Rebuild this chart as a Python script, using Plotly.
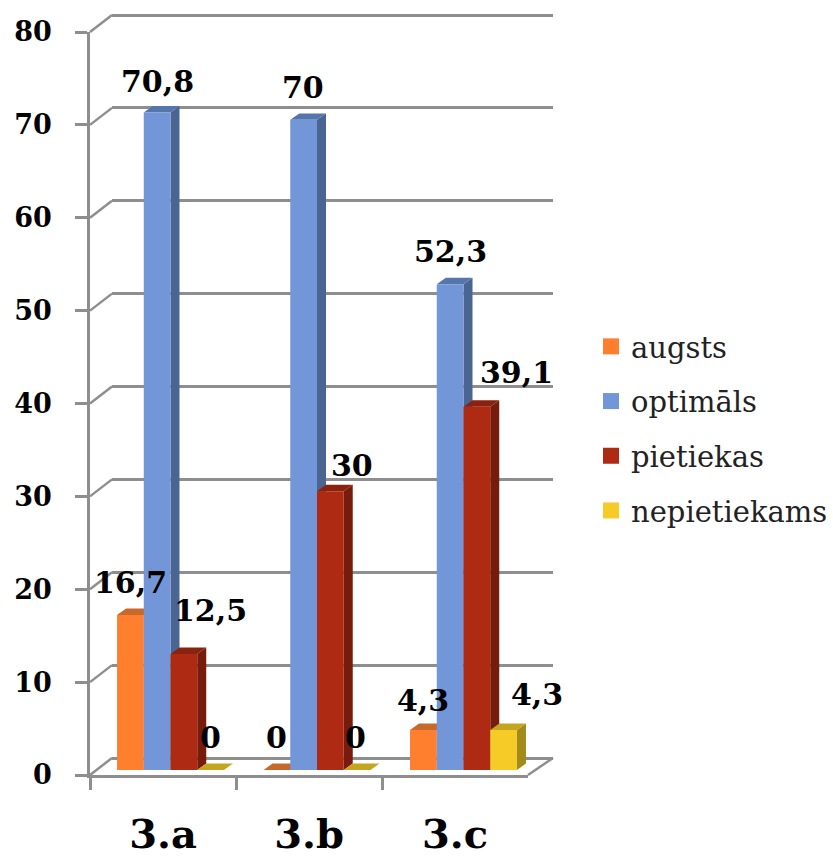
import plotly.graph_objects as go

categories = ["3.a", "3.b", "3.c"]
series_names = ["augsts", "optimāls", "pietiekas", "nepietiekams"]
augsts = [16.7, 0, 4.3]
optimals = [70.8, 70, 52.3]
pietiekas = [12.5, 30, 39.1]
nepietiekams = [0, 0, 4.3]
y_ticks = [0, 10, 20, 30, 40, 50, 60, 70, 80]

series = [augsts, optimals, pietiekas, nepietiekams]
front = ["#FF7F2F", "#7396D9", "#AE2A12", "#F6CB28"]
side = ["#B85C22", "#4B6592", "#771B0C", "#A38B1B"]
top = ["#C66A2C", "#5476AC", "#8A2210", "#C4A51F"]
# label nudges in pixels: (dx, gap above bar top)
label_dx = [[0, 0, 0], [0, -1, 0], [27, 22, 40], [0, -2, 33]]
label_up = [[32, 33, 30], [31, 32, 33], [43, 26, 34], [33, 33, 36]]

W, H = 833, 857
FONT = "DejaVu Serif"
GRID = "#8E8E8E"
px = lambda p: p / W
py = lambda p: 1 - p / H

GROUP = 0.73
BAR = GROUP / 4
DX_PX, DY_PX = 9, 6.5
UNIT_X = 146.5
UNIT_Y = 743 / 80
dx, dy = DX_PX / UNIT_X, DY_PX / UNIT_Y
CAT_X = [0, 1, 2]

fig = go.Figure()

# back wall subplot (its gridlines are the chart's horizontal lines)
fig.add_trace(go.Scatter(x=[None], y=[None], mode="markers", showlegend=False, hoverinfo="skip",
                         xaxis="x", yaxis="y"))

# 3-D side and top faces (computed from the values), underneath the bars
for s, vals in enumerate(series):
    sx, sy, tx, ty = [], [], [], []
    for c, v in zip(CAT_X, vals):
        xl = c - GROUP / 2 + s * BAR
        xr = xl + BAR
        sx += [xr, xr + dx, xr + dx, xr, None]
        sy += [0, dy, v + dy, v, None]
        tx += [xl, xr, xr + dx, xl + dx, None]
        ty += [v, v, v + dy, v + dy, None]
    for X, Y, col in ((sx, sy, side[s]), (tx, ty, top[s])):
        fig.add_trace(go.Scatter(x=X, y=Y, mode="lines", line=dict(width=0), fill="toself",
                                 fillcolor=col, xaxis="x2", yaxis="y2",
                                 showlegend=False, hoverinfo="skip"))

# front faces
for s, vals in enumerate(series):
    fig.add_trace(go.Bar(x=CAT_X, y=vals, name=series_names[s], marker=dict(color=front[s], line=dict(width=0)),
                         xaxis="x3", yaxis="y3", showlegend=False))

# legend entries
for s, name in enumerate(series_names):
    fig.add_trace(go.Scatter(x=[None], y=[None], mode="markers", name=name, legendgroup=name,
                             marker=dict(symbol="square", size=18, color=front[s]),
                             xaxis="x4", yaxis="y4"))
# keep the category axis populated
fig.add_trace(go.Scatter(x=categories, y=[None] * 3, mode="markers", showlegend=False,
                         hoverinfo="skip", xaxis="x4", yaxis="y4"))

annotations = []
for s, vals in enumerate(series):
    for c, v in enumerate(vals):
        annotations.append(dict(
            x=CAT_X[c] - GROUP / 2 + (s + 0.5) * BAR, y=v, xref="x3", yref="y3",
            text=f"<b>{str(v).replace('.', ',')}</b>", showarrow=False,
            xanchor="center", yanchor="middle",
            xshift=label_dx[s][c], yshift=label_up[s][c],
            font=dict(family=FONT, size=30, color="black")))

line = dict(color=GRID, width=2.5)
shapes = []
for t in y_ticks:
    shapes.append(dict(type="line", xref="paper", yref="paper", xsizemode="pixel", ysizemode="pixel",
                       xanchor=px(90), yanchor=py(775 - t * UNIT_Y), x0=0, x1=22, y0=0, y1=17,
                       line=line, layer="below"))
shapes.append(dict(type="line", xref="paper", yref="paper", xsizemode="pixel", ysizemode="pixel",
                   xanchor=px(528), yanchor=py(775), x0=0, x1=25, y0=0, y1=17, line=line, layer="below"))

hidden = dict(visible=False, showgrid=False, zeroline=False)
bars_x = dict(domain=[px(97.25), px(536.75)], range=[-0.5, 2.5], **hidden)
bars_y = dict(domain=[py(770), py(27)], range=[0, 80], **hidden)

fig.update_layout(
    width=W, height=H, margin=dict(l=0, r=0, t=0, b=0, autoexpand=False), autosize=False,
    paper_bgcolor="white", plot_bgcolor="rgba(0,0,0,0)",
    barmode="group", bargap=1 - GROUP, bargroupgap=0,
    font=dict(family=FONT, color="black"),
    xaxis=dict(domain=[px(112), px(553)], range=[0, 1], showgrid=False, zeroline=False,
               showticklabels=False, ticks="", showline=False),
    yaxis=dict(domain=[py(758 + UNIT_Y), py(758 - 81 * UNIT_Y)], range=[-1, 81], tickvals=y_ticks,
               showgrid=True, gridcolor=GRID, gridwidth=2.5, zeroline=False, showticklabels=False,
               ticks="", showline=False),
    xaxis2=dict(anchor="y2", **bars_x), yaxis2=dict(anchor="x2", **bars_y),
    xaxis3=dict(anchor="y3", **bars_x), yaxis3=dict(anchor="x3", **bars_y),
    xaxis4=dict(anchor="y4", domain=[px(90), px(528)], type="category", range=[-0.5, 2.5],
                categoryorder="array", categoryarray=categories,
                tickson="boundaries", ticks="outside", ticklen=12, tickwidth=2.5, tickcolor=GRID,
                showline=True, linecolor=GRID, linewidth=2.5, showgrid=False, zeroline=False,
                ticklabelstandoff=22,
                tickfont=dict(family=FONT, size=40, color="black", weight="bold")),
    yaxis4=dict(anchor="x4", domain=[py(775), py(32)], range=[0, 80], tickvals=y_ticks,
                ticks="outside", ticklen=12, tickwidth=2.5, tickcolor=GRID,
                showline=True, linecolor=GRID, linewidth=2.5, showgrid=False, zeroline=False,
                ticklabelstandoff=18,
                tickfont=dict(family=FONT, size=27, color="black", weight="bold")),
    legend=dict(x=px(591), y=py(321), xanchor="left", yanchor="top", bgcolor="rgba(0,0,0,0)",
                font=dict(family=FONT, size=29, color="#222222"), tracegroupgap=14,
                itemwidth=30, traceorder="grouped"),
    annotations=annotations, shapes=shapes,
)

fig.write_html("out.html", post_script="document.body.style.margin='0';",
               config=dict(displayModeBar=False))
